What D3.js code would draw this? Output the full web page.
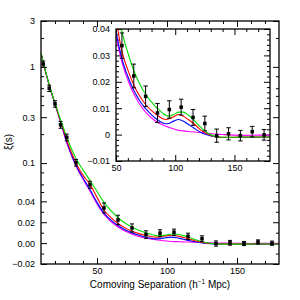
<!DOCTYPE html>
<html><head><meta charset="utf-8">
<script src="https://cdn.jsdelivr.net/npm/d3@7"></script>
<style>
body{margin:0;background:#fff}
svg{display:block}
text{font-family:"Liberation Sans",Arial,sans-serif;fill:#000}
</style>
</head><body><svg id="c" width="300" height="300"></svg>
<script>
// ---------- data ----------
const sGrid = [10,12,14,16,18,20,22,24,26,28,30,33,36,40,45,50,55,60,65,70,75,80,85,89,92,95,99,103,107,111,116,121,126,131,136,142,150,160,170,180];
const xiGreen   = [1.39,1.06,0.82,0.645,0.52,0.42,0.345,0.283,0.233,0.193,0.163,0.128,0.105,0.085,0.066,0.051,0.039,0.031,0.0243,0.0192,0.0153,0.0123,0.0098,0.0083,0.0073,0.0070,0.0077,0.0085,0.0085,0.0074,0.0054,0.0030,0.0010,-0.0002,-0.0008,-0.0010,-0.0010,-0.0009,-0.0009,-0.0009];
const xiRed     = [1.39,1.05,0.81,0.637,0.512,0.413,0.336,0.273,0.222,0.180,0.149,0.117,0.094,0.075,0.060,0.044,0.0315,0.0245,0.0188,0.0146,0.0114,0.0091,0.0073,0.0061,0.0057,0.0060,0.0069,0.0076,0.0069,0.0057,0.0040,0.0020,0.0005,-0.0004,-0.0009,-0.0010,-0.0010,-0.0009,-0.0009,-0.0009];
const xiBlue    = [1.39,1.05,0.81,0.635,0.51,0.41,0.332,0.268,0.215,0.172,0.142,0.110,0.089,0.070,0.053,0.039,0.0288,0.0220,0.0168,0.0128,0.0098,0.0075,0.0056,0.0045,0.0041,0.0043,0.0052,0.0057,0.0051,0.0039,0.0024,0.0010,0.0000,-0.0006,-0.0010,-0.0011,-0.0011,-0.0010,-0.0010,-0.0010];
const xiMagenta = [1.39,1.05,0.81,0.635,0.51,0.41,0.330,0.265,0.212,0.168,0.140,0.108,0.087,0.068,0.051,0.0375,0.0275,0.0207,0.0155,0.0115,0.0085,0.0063,0.0047,0.0038,0.0032,0.0027,0.0021,0.0016,0.0014,0.0012,0.0010,0.0008,0.0006,0.0003,0.0001,0.0000,-0.0002,-0.0003,-0.0002,-0.0002];

const dataS   = [11.6,15.9,20,24,28.4,35,45,55,65,75,85,95,105,115,125,135,145,155,165,175];
const dataXi  = [1.07,0.60,0.413,0.25,0.185,0.101,0.0597,0.0337,0.0222,0.0145,0.0082,0.0095,0.0104,0.0065,0.0042,-0.0004,0.0003,-0.0004,0.0011,-0.0001];
const dataErr = [0.08,0.045,0.032,0.02,0.015,0.008,0.005,0.0048,0.0045,0.0039,0.0036,0.0033,0.003,0.003,0.0028,0.0025,0.0023,0.002,0.002,0.002];

const mainXTicks = [50,100,150];
const mainYTicks = [3,1,0.3,0.1,0.04,0.02,0,-0.02];
const mainYLabels = ["3","1","0.3","0.1","0.04","0.02","0.00","\u22120.02"];
const mainYMinor = [2,0.8,0.6,0.5,0.4,0.2,0.08,0.06,0.05,0.03,0.01,-0.01];
const insetXTicks = [50,100,150];
const insetYTicks = [0.04,0.03,0.02,0.01,0,-0.01];
const insetYLabels = ["0.04","0.03","0.02","0.01","0","\u22120.01"];

const curves = [
  {vals: xiMagenta, color:"#ff00ff"},
  {vals: xiBlue, color:"#0000ff"},
  {vals: xiRed, color:"#ff0000"},
  {vals: xiGreen, color:"#00dd00"}
];

// ---------- layout ----------
const svg = d3.select("#c");
const M = {l:41, r:279, t:21, b:264};
const I = {l:116, r:270, t:29, b:161};

// hybrid log/linear transform (log above 0.04, tangent-linear below)
const c0 = 0.04;
const tf = v => v >= c0 ? Math.log10(v) : Math.log10(c0) + (v - c0)/(c0*Math.LN10);

const xM = d3.scaleLinear().domain([10,180]).range([M.l, M.r]);
const yT = d3.scaleLinear().domain([tf(-0.02), tf(3)]).range([M.b, M.t]);
const yM = v => yT(tf(v));

const xI = d3.scaleLinear().domain([50,180]).range([I.l, I.r]);
const yI = d3.scaleLinear().domain([-0.01,0.04]).range([I.b, I.t]);

const defs = svg.append("defs");
defs.append("clipPath").attr("id","cm").append("rect").attr("x",M.l).attr("y",M.t).attr("width",M.r-M.l).attr("height",M.b-M.t);
defs.append("clipPath").attr("id","ci").append("rect").attr("x",I.l).attr("y",I.t).attr("width",I.r-I.l).attr("height",I.b-I.t);

function styleAxis(g){
  g.select(".domain").remove();
  g.selectAll("line").attr("stroke","#000").attr("stroke-width",1);
  g.selectAll("text").attr("font-size",9).attr("font-family","'Liberation Sans',Arial,sans-serif").attr("fill","#000");
}

// ---------- main panel ----------
const xMinorMain = d3.range(20,180,10).filter(d=>d%50!==0);
svg.append("g").attr("transform",`translate(0,${M.b})`)
  .call(d3.axisBottom(xM).tickValues(mainXTicks).tickSize(-6).tickPadding(4).tickFormat(d3.format("d"))).call(styleAxis);
svg.append("g").attr("transform",`translate(0,${M.b})`)
  .call(d3.axisBottom(xM).tickValues(xMinorMain).tickSize(-3).tickFormat("")).call(styleAxis);
svg.append("g").attr("transform",`translate(0,${M.t})`)
  .call(d3.axisTop(xM).tickValues(mainXTicks).tickSize(-6).tickFormat("")).call(styleAxis);
svg.append("g").attr("transform",`translate(0,${M.t})`)
  .call(d3.axisTop(xM).tickValues(xMinorMain).tickSize(-3).tickFormat("")).call(styleAxis);
svg.append("g").attr("transform",`translate(${M.l},0)`)
  .call(d3.axisLeft(yT).tickValues(mainYTicks.map(tf)).tickSize(-6).tickPadding(6).tickFormat((d,i)=>mainYLabels[i])).call(styleAxis);
svg.append("g").attr("transform",`translate(${M.l},0)`)
  .call(d3.axisLeft(yT).tickValues(mainYMinor.map(tf)).tickSize(-3).tickFormat("")).call(styleAxis);
svg.append("g").attr("transform",`translate(${M.r},0)`)
  .call(d3.axisRight(yT).tickValues(mainYTicks.map(tf)).tickSize(-6).tickFormat("")).call(styleAxis);
svg.append("g").attr("transform",`translate(${M.r},0)`)
  .call(d3.axisRight(yT).tickValues(mainYMinor.map(tf)).tickSize(-3).tickFormat("")).call(styleAxis);

const mainG = svg.append("g").attr("clip-path","url(#cm)");
const lineM = d3.line().x((d,i)=>xM(sGrid[i])).y(d=>yM(d)).curve(d3.curveMonotoneX);
curves.forEach(c=>{
  mainG.append("path").attr("d",lineM(c.vals)).attr("fill","none").attr("stroke",c.color).attr("stroke-width",1.1);
});
function drawPoints(g, xs, ys, capW, sz){
  const idx = d3.range(dataS.length);
  g.selectAll(null).data(idx).enter().append("line")
    .attr("x1",i=>xs(dataS[i])).attr("x2",i=>xs(dataS[i]))
    .attr("y1",i=>ys(dataXi[i]-dataErr[i])).attr("y2",i=>ys(dataXi[i]+dataErr[i]))
    .attr("stroke","#000").attr("stroke-width",1);
  ["-","+"].forEach(sg=>{
    g.selectAll(null).data(idx).enter().append("line")
      .attr("x1",i=>xs(dataS[i])-capW/2).attr("x2",i=>xs(dataS[i])+capW/2)
      .attr("y1",i=>ys(dataXi[i]+(sg==="+"?dataErr[i]:-dataErr[i])))
      .attr("y2",i=>ys(dataXi[i]+(sg==="+"?dataErr[i]:-dataErr[i])))
      .attr("stroke","#000").attr("stroke-width",1);
  });
  g.selectAll(null).data(idx).enter().append("rect")
    .attr("x",i=>xs(dataS[i])-sz/2).attr("y",i=>ys(dataXi[i])-sz/2)
    .attr("width",sz).attr("height",sz).attr("fill","#000");
}
drawPoints(mainG, xM, yM, 4, 3.5);

svg.append("rect").attr("x",M.l).attr("y",M.t).attr("width",M.r-M.l).attr("height",M.b-M.t)
  .attr("fill","none").attr("stroke","#000").attr("stroke-width",1.3);

// axis labels
const xl = svg.append("text").attr("x",(M.l+M.r)/2).attr("y",288).attr("text-anchor","middle").attr("font-size",10);
xl.append("tspan").text("Comoving Separation (h");
xl.append("tspan").attr("font-size",6.5).attr("dy",-4).text("\u22121");
xl.append("tspan").attr("dy",4).text(" Mpc)");
svg.append("text").attr("transform","translate(12,142) rotate(-90)").attr("text-anchor","middle").attr("font-size",10).text("\u03be(s)");

// ---------- inset ----------
svg.append("rect").attr("x",I.l).attr("y",I.t).attr("width",I.r-I.l).attr("height",I.b-I.t).attr("fill","#fff");
const xMinorIn = d3.range(60,180,10).filter(d=>d%50!==0);
const yMinorIn = d3.range(-0.008,0.04,0.002).filter(d=>Math.abs(Math.round(d*100)-d*100)>1e-6);
svg.append("g").attr("transform",`translate(0,${I.b})`)
  .call(d3.axisBottom(xI).tickValues(insetXTicks).tickSize(-6).tickPadding(4).tickFormat(d3.format("d"))).call(styleAxis);
svg.append("g").attr("transform",`translate(0,${I.b})`)
  .call(d3.axisBottom(xI).tickValues(xMinorIn).tickSize(-3).tickFormat("")).call(styleAxis);
svg.append("g").attr("transform",`translate(0,${I.t})`)
  .call(d3.axisTop(xI).tickValues(insetXTicks).tickSize(-6).tickFormat("")).call(styleAxis);
svg.append("g").attr("transform",`translate(0,${I.t})`)
  .call(d3.axisTop(xI).tickValues(xMinorIn).tickSize(-3).tickFormat("")).call(styleAxis);
svg.append("g").attr("transform",`translate(${I.l},0)`)
  .call(d3.axisLeft(yI).tickValues(insetYTicks).tickSize(-6).tickPadding(6).tickFormat((d,i)=>insetYLabels[i])).call(styleAxis);
svg.append("g").attr("transform",`translate(${I.l},0)`)
  .call(d3.axisLeft(yI).tickValues(yMinorIn).tickSize(-3).tickFormat("")).call(styleAxis);
svg.append("g").attr("transform",`translate(${I.r},0)`)
  .call(d3.axisRight(yI).tickValues(insetYTicks).tickSize(-6).tickFormat("")).call(styleAxis);
svg.append("g").attr("transform",`translate(${I.r},0)`)
  .call(d3.axisRight(yI).tickValues(yMinorIn).tickSize(-3).tickFormat("")).call(styleAxis);

const inG = svg.append("g").attr("clip-path","url(#ci)");
const lineI = d3.line().x((d,i)=>xI(sGrid[i])).y(d=>yI(d)).curve(d3.curveMonotoneX);
curves.forEach(c=>{
  inG.append("path").attr("d",lineI(c.vals)).attr("fill","none").attr("stroke",c.color).attr("stroke-width",1.1);
});
drawPoints(inG, xI, yI, 4.5, 3.5);
svg.append("rect").attr("x",I.l).attr("y",I.t).attr("width",I.r-I.l).attr("height",I.b-I.t)
  .attr("fill","none").attr("stroke","#000").attr("stroke-width",1.3);
</script>
</body></html>
